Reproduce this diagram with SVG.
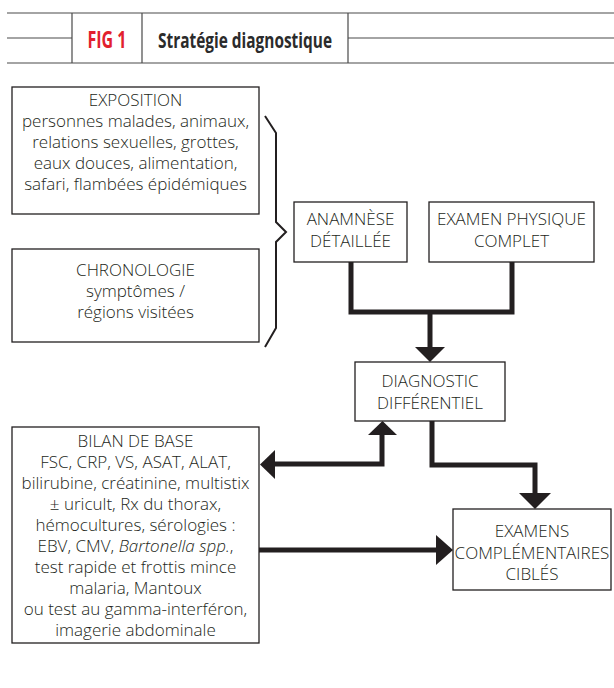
<svg xmlns="http://www.w3.org/2000/svg" width="614" height="688" viewBox="0 0 614 688">
<defs>
<style>
.hl{stroke:#4a4a4a;stroke-width:1.2;fill:none}
.box{fill:#fff;stroke:#231f20;stroke-width:1.3}
.t{font-family:"Open Sans","Liberation Sans",sans-serif;font-size:17px;fill:#231f20;text-anchor:middle;font-weight:300}
.c{stroke:#231f20;stroke-width:5;fill:none;stroke-linejoin:miter}
.ah{fill:#231f20}
.brace{stroke:#231f20;stroke-width:2;fill:none;stroke-linejoin:miter}
</style>
</defs>
<rect width="614" height="688" fill="#fff"/>
<g id="header">
<path class="hl" d="M7 13H614M7 63H614M7 38H72M348 38H614M72 13V63M142 13V63M348 13V63"/>
<text x="107" y="48" textLength="39" lengthAdjust="spacingAndGlyphs" style="font-family:'Open Sans','Liberation Sans',sans-serif;font-weight:700;font-size:23px;fill:#e2202e;text-anchor:middle">FIG 1</text>
<text x="245" y="48" textLength="174" lengthAdjust="spacingAndGlyphs" style="font-family:'Open Sans','Liberation Sans',sans-serif;font-weight:700;font-size:22px;fill:#2b2b2b;text-anchor:middle">Stratégie diagnostique</text>
</g>
<g id="exposition">
<rect class="box" x="12" y="87" width="247" height="127"/>
<text class="t" x="135.5" y="106">EXPOSITION</text>
<text class="t" x="135.5" y="127">personnes malades, animaux,</text>
<text class="t" x="135.5" y="148">relations sexuelles, grottes,</text>
<text class="t" x="135.5" y="169">eaux douces, alimentation,</text>
<text class="t" x="135.5" y="190">safari, flambées épidémiques</text>
</g>
<g id="chronologie">
<rect class="box" x="12" y="249" width="247" height="93"/>
<text class="t" x="135.5" y="276">CHRONOLOGIE</text>
<text class="t" x="135.5" y="297">symptômes /</text>
<text class="t" x="135.5" y="318">régions visitées</text>
</g>
<g id="brace">
<path class="brace" d="M265 116L276 133V222L286 232L276 242V328L265 347"/>
</g>
<g id="anamnese">
<rect class="box" x="294" y="202" width="113" height="60"/>
<text class="t" x="350.5" y="225">ANAMNÈSE</text>
<text class="t" x="350.5" y="247">DÉTAILLÉE</text>
</g>
<g id="examen-physique">
<rect class="box" x="429" y="202" width="165" height="60"/>
<text class="t" x="511.5" y="225">EXAMEN PHYSIQUE</text>
<text class="t" x="511.5" y="247">COMPLET</text>
</g>
<g id="diagnostic">
<rect class="box" x="355" y="362" width="150" height="59"/>
<text class="t" x="430" y="387">DIAGNOSTIC</text>
<text class="t" x="430" y="409">DIFFÉRENTIEL</text>
</g>
<g id="bilan">
<rect class="box" x="12" y="427" width="247" height="216"/>
<text class="t" x="135.5" y="447">BILAN DE BASE</text>
<text class="t" x="135.5" y="468">FSC, CRP, VS, ASAT, ALAT,</text>
<text class="t" x="135.5" y="489">bilirubine, créatinine, multistix</text>
<text class="t" x="135.5" y="510">± uricult, Rx du thorax,</text>
<text class="t" x="135.5" y="531">hémocultures, sérologies :</text>
<text class="t" x="135.5" y="552">EBV, CMV, <tspan font-style="italic">Bartonella spp.</tspan>,</text>
<text class="t" x="135.5" y="573">test rapide et frottis mince</text>
<text class="t" x="135.5" y="594">malaria, Mantoux</text>
<text class="t" x="135.5" y="615">ou test au gamma-interféron,</text>
<text class="t" x="135.5" y="636">imagerie abdominale</text>
</g>
<g id="examens-cibles">
<rect class="box" x="453" y="509" width="158" height="81"/>
<text class="t" x="532" y="537">EXAMENS</text>
<text class="t" x="532" y="559">COMPLÉMENTAIRES</text>
<text class="t" x="532" y="580">CIBLÉS</text>
</g>
<g id="connectors">
<path class="c" d="M351 262V312H512V262M430 312V348"/>
<polygon class="ah" points="415,347 445,347 430,362"/>
<path class="c" d="M382 434V464H274"/>
<polygon class="ah" points="368,435 397,435 382.5,421"/>
<polygon class="ah" points="275,450 275,479 260,464.5"/>
<path class="c" d="M432 421V465H535V494"/>
<polygon class="ah" points="519,493 551,493 535,509"/>
<path class="c" d="M259 550H437"/>
<polygon class="ah" points="436,535 436,565 453,550"/>
</g>
</svg>
